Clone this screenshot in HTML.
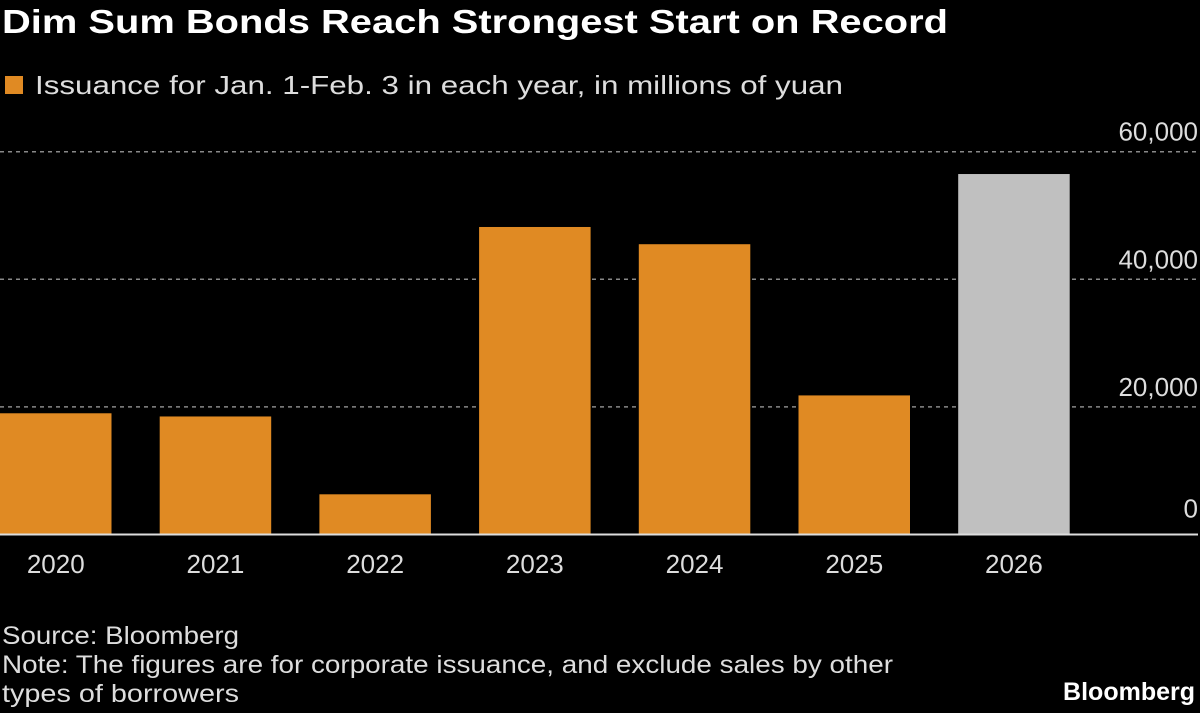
<!DOCTYPE html>
<html><head><meta charset="utf-8"><style>
body{margin:0;background:#000;width:1200px;height:713px;overflow:hidden;font-family:"Liberation Sans",sans-serif;color:#fff}
svg{position:absolute;left:0;top:0}
</style></head><body>
<svg width="1200" height="713">
<text x="2" y="33" font-size="33" font-weight="bold" fill="#fff" textLength="946" lengthAdjust="spacingAndGlyphs">Dim Sum Bonds Reach Strongest Start on Record</text>
<rect x="5" y="76" width="18" height="18" fill="#e08a23"/>
<text x="35" y="94" font-size="26" fill="#ddd" textLength="808" lengthAdjust="spacingAndGlyphs">Issuance for Jan. 1-Feb. 3 in each year, in millions of yuan</text>
<g id="grid"></g><g id="bars"></g><g id="xlabels"></g>
<line x1="0" x2="1198" y1="534.5" y2="534.5" stroke="#ddd" stroke-width="2"/>
<text x="2" y="644" font-size="25" fill="#ddd" textLength="237" lengthAdjust="spacingAndGlyphs">Source: Bloomberg</text>
<text x="2" y="673" font-size="25" fill="#ddd" textLength="891" lengthAdjust="spacingAndGlyphs">Note: The figures are for corporate issuance, and exclude sales by other</text>
<text x="2" y="702" font-size="25" fill="#ddd" textLength="237" lengthAdjust="spacingAndGlyphs">types of borrowers</text>
<text x="1195" y="700" font-size="25" font-weight="bold" fill="#fff" text-anchor="end">Bloomberg</text>
</svg>
<script>
const categories=["2020","2021","2022","2023","2024","2025","2026"];
const values=[19000,18500,6300,48200,45500,21800,56500];
const barColors=["#e08a23","#e08a23","#e08a23","#e08a23","#e08a23","#e08a23","#c0c0c0"];
const yTicks=[0,20000,40000,60000];
const yTickLabels=["0","20,000","40,000","60,000"];
const NS="http://www.w3.org/2000/svg";
const y=v=>534.5-v*(382.8/60000);
const x=i=>i*159.7;
const bw=111.5;
const grid=document.getElementById('grid'),bars=document.getElementById('bars'),xl=document.getElementById('xlabels');
yTicks.forEach((t,i)=>{
 if(t>0){const l=document.createElementNS(NS,'line');
 l.setAttribute('x1',0);l.setAttribute('x2',1198);l.setAttribute('y1',y(t));l.setAttribute('y2',y(t));
 l.setAttribute('stroke','#888');l.setAttribute('stroke-width','1.5');l.setAttribute('stroke-dasharray','4,4');
 
 
 grid.appendChild(l);}
 const tx=document.createElementNS(NS,'text');
 tx.setAttribute('x',1198);tx.setAttribute('y',y(t)-(t>0?11:17));tx.setAttribute('text-anchor','end');
 tx.setAttribute('font-size','26');tx.setAttribute('fill','#ddd');tx.textContent=yTickLabels[i];
 
 
 grid.appendChild(tx);
});
categories.forEach((c,i)=>{
 const r=document.createElementNS(NS,'rect');
 r.setAttribute('x',x(i));r.setAttribute('width',bw);r.setAttribute('y',y(values[i]));r.setAttribute('height',534.5-y(values[i]));
 r.setAttribute('fill',barColors[i]);
 
 
 bars.appendChild(r);
 const t=document.createElementNS(NS,'text');
 t.setAttribute('x',x(i)+bw/2);t.setAttribute('y',573);t.setAttribute('text-anchor','middle');
 t.setAttribute('font-size','26');t.setAttribute('fill','#ddd');t.textContent=c;
 
 
 xl.appendChild(t);
});
</script>
</body></html>
